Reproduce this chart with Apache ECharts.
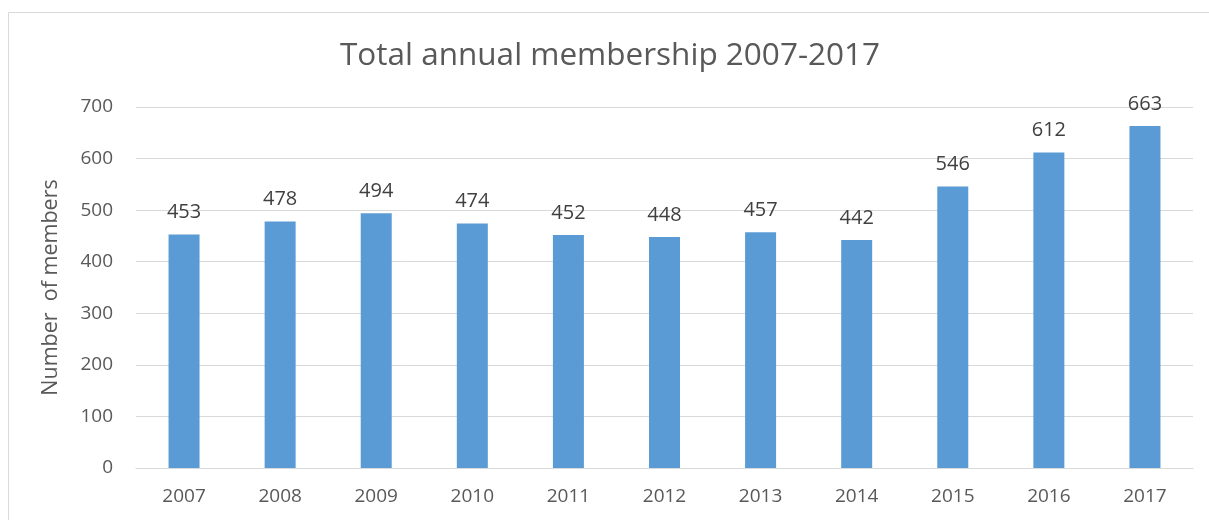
<!DOCTYPE html>
<html><head><meta charset="utf-8">
<script src="https://cdn.jsdelivr.net/npm/echarts@6/dist/echarts.min.js"></script>
<style>html,body{margin:0;padding:0;background:#fff}#c{width:1209px;height:520px}</style>
</head><body><div id="c"></div>
<script>
const years = ['2007','2008','2009','2010','2011','2012','2013','2014','2015','2016','2017'];
const members = [453,478,494,474,452,448,457,442,546,612,663];
const chart = echarts.init(document.getElementById('c'));
const font = '"Open Sans", "Liberation Sans", sans-serif';
chart.setOption({
  animation:false,
  backgroundColor:'#fff',
  graphic:[{type:'rect',shape:{x:8.5,y:12.5,width:1220,height:540},style:{fill:'none',stroke:'#d9d9d9',lineWidth:1},silent:true}],
  title:{text:'Total annual membership 2007-2017',left:340,top:40,padding:0,textStyle:{fontFamily:font,fontSize:31.5,fontWeight:'normal',color:'#595959'}},
  grid:{left:136,right:16,top:107,bottom:52,containLabel:false},
  xAxis:{type:'category',data:years,axisTick:{show:false},axisLine:{lineStyle:{color:'#d9d9d9'}},
    axisLabel:{fontFamily:font,fontSize:19,color:'#595959',margin:19}},
  yAxis:{type:'value',min:0,max:700,interval:100,name:'Number  of members',nameLocation:'middle',nameGap:74,
    nameTextStyle:{fontFamily:font,fontSize:21.5,color:'#595959'},
    axisLabel:{fontFamily:font,fontSize:19,color:'#595959',margin:23},
    splitLine:{lineStyle:{color:'#d9d9d9'}},axisLine:{show:false},axisTick:{show:false}},
  series:[{type:'bar',data:members,barWidth:31,itemStyle:{color:'#5B9BD5'},
    label:{show:true,position:'top',distance:12,fontFamily:font,fontSize:20,color:'#404040'}}]
});
</script></body></html>
